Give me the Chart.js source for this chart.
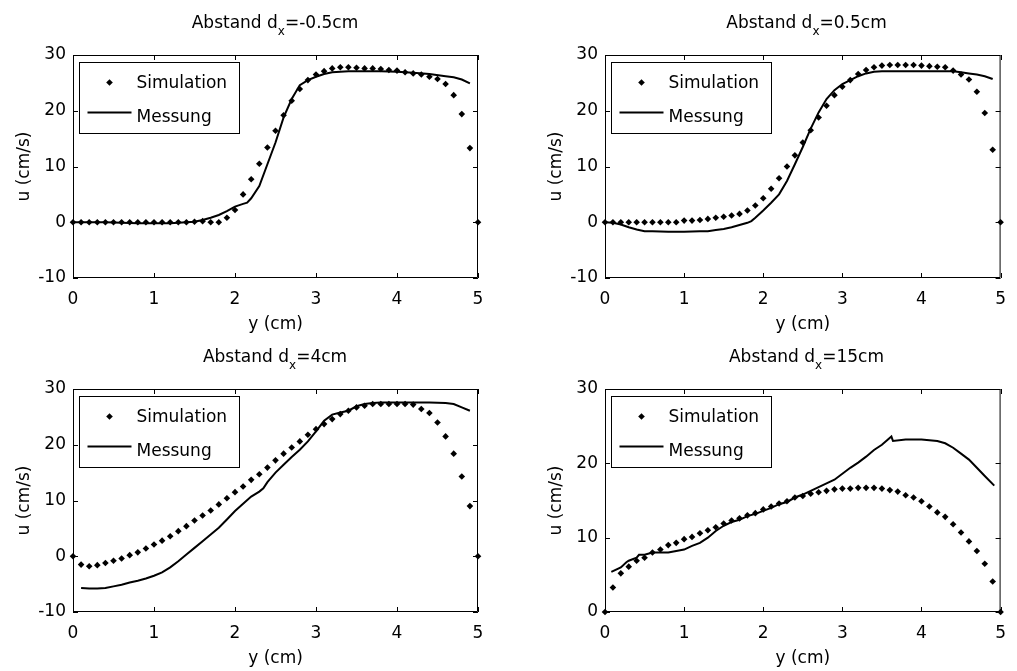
<!DOCTYPE html>
<html>
<head>
<meta charset="utf-8">
<script src="https://cdn.jsdelivr.net/npm/chart.js@4.4.1/dist/chart.umd.min.js"></script>
<style>
  body { margin: 0; background: #fff; }
  #page { position: relative; width: 1017px; height: 671px; overflow: hidden; background: #fff; }
  canvas { position: absolute; }
  .title { position: absolute; font: 17px "DejaVu Sans"; line-height: 17px; color: #000; white-space: nowrap; transform: translateX(-50%); }
  .title sub { font-size: 12px; vertical-align: -7px; line-height: 0; }
</style>
</head>
<body>
<div id="page">
  <canvas id="c0" width="508" height="335" style="left:0;top:0"></canvas>
  <canvas id="c1" width="485" height="335" style="left:532px;top:0"></canvas>
  <canvas id="c2" width="508" height="335" style="left:0;top:334px"></canvas>
  <canvas id="c3" width="485" height="335" style="left:532px;top:334px"></canvas>
</div>
<script>
// distances of the four panels
const distances = ['-0.5cm', '0.5cm', '4cm', '15cm'];
const yMins = [-10, -10, -10, 0];

// simulation grid (y in cm)
const simX = [0,0.1,0.2,0.3,0.4,0.5,0.6,0.7,0.8,0.9,1.0,1.1,1.2,1.3,1.4,1.5,1.6,1.7,1.8,1.9,
  2.0,2.1,2.2,2.3,2.4,2.5,2.6,2.7,2.8,2.9,3.0,3.1,3.2,3.3,3.4,3.5,3.6,3.7,3.8,3.9,
  4.0,4.1,4.2,4.3,4.4,4.5,4.6,4.7,4.8,4.9,5.0];

// simulation u (cm/s)
const simA = [0,0,0,0,0,0,0,0,0,0,0,0,0,0,0,0.1,0.2,0,0,0.8,
  2.2,5.0,7.7,10.5,13.4,16.4,19.2,21.8,23.9,25.5,26.5,27.1,27.6,27.8,27.8,27.7,27.6,27.6,27.5,27.3,
  27.2,26.9,26.7,26.5,26.1,25.7,24.8,22.8,19.4,13.3,0];
const simB = [0,0,0,0,0,0,0,0,0,0,0.3,0.3,0.4,0.6,0.8,1.0,1.2,1.5,2.1,3.0,
  4.3,6.0,7.9,10.0,12.0,14.3,16.5,18.8,20.9,22.8,24.3,25.5,26.6,27.3,27.8,28.1,28.2,28.2,28.2,28.2,
  28.1,28.0,27.9,27.8,27.2,26.5,25.6,23.4,19.6,13.0,0];
const simC = [0,-1.5,-1.8,-1.6,-1.2,-0.8,-0.4,0.2,0.7,1.4,2.1,2.8,3.6,4.5,5.4,6.4,7.3,8.2,9.3,10.4,
  11.5,12.5,13.7,14.7,15.9,17.2,18.4,19.5,20.6,21.8,22.8,23.7,24.6,25.5,26.1,26.7,27.0,27.3,27.3,27.3,
  27.3,27.3,27.2,26.4,25.7,24.0,21.5,18.4,14.3,9.0,0];
const simD = [0,3.3,5.2,6.1,6.9,7.3,8.0,8.4,9.0,9.3,9.8,10.1,10.6,11.0,11.4,11.9,12.3,12.6,13.0,13.3,
  13.8,14.2,14.6,14.9,15.4,15.6,15.9,16.1,16.3,16.5,16.6,16.6,16.7,16.7,16.7,16.6,16.4,16.2,15.7,15.4,
  14.9,14.2,13.4,12.8,11.8,10.7,9.5,8.2,6.5,4.1,0];

// measurement
const messAX = [0,0.2,0.4,0.6,0.8,1.0,1.2,1.4,1.5,1.6,1.7,1.8,1.9,2.0,2.1,2.15,2.2,2.3,2.4,2.5,2.6,2.7,2.8,2.9,3.0,
  3.1,3.2,3.3,3.4,3.6,3.8,4.0,4.2,4.4,4.6,4.7,4.8,4.9];
const messAY = [0,0,0,-0.1,-0.2,-0.2,-0.2,0,0.1,0.4,0.8,1.3,2.0,2.8,3.3,3.5,4.3,6.5,10.4,14.3,18.8,22.1,24.6,25.5,26.1,
  26.6,26.9,27.0,27.1,27.1,27.1,27.0,26.8,26.6,26.2,26.0,25.6,24.9];

const messBX = [0,0.1,0.2,0.3,0.4,0.5,0.6,0.8,1.0,1.2,1.3,1.4,1.5,1.6,1.7,1.8,1.85,1.9,2.0,2.1,2.2,2.3,2.4,2.5,2.6,2.7,2.8,
  2.9,3.0,3.1,3.2,3.3,3.4,3.5,3.8,4.1,4.4,4.5,4.6,4.7,4.8,4.9];
const messBY = [0,-0.1,-0.4,-0.9,-1.3,-1.6,-1.6,-1.7,-1.7,-1.6,-1.6,-1.4,-1.2,-0.9,-0.5,-0.1,0.2,0.8,2.1,3.5,5.0,7.4,10.4,13.5,16.8,19.7,22.1,
  23.7,24.8,25.5,26.2,26.7,27.0,27.1,27.1,27.1,27.1,26.9,26.7,26.5,26.2,25.7];

const messCX = [0.1,0.2,0.3,0.4,0.5,0.6,0.7,0.8,0.9,1.0,1.1,1.2,1.3,1.4,1.5,1.6,1.7,1.8,1.9,2.0,
  2.1,2.2,2.3,2.35,2.4,2.5,2.6,2.7,2.8,2.9,3.0,3.1,3.2,3.3,3.4,3.5,3.6,3.7,3.8,4.0,4.2,4.4,4.6,4.7,4.8,4.9];
const messCY = [-5.7,-5.8,-5.8,-5.7,-5.4,-5.1,-4.7,-4.4,-4.0,-3.5,-2.9,-2.0,-0.9,0.3,1.5,2.7,3.9,5.1,6.6,8.1,
  9.4,10.7,11.6,12.2,13.3,15.0,16.4,17.8,19.1,20.6,22.4,24.3,25.4,25.8,26.1,26.9,27.3,27.5,27.6,27.6,27.6,27.6,27.5,27.3,26.7,26.1];

const messDX = [0.08,0.2,0.27,0.3,0.4,0.43,0.5,0.6,0.7,0.8,0.9,1.0,1.1,1.2,1.3,1.4,1.5,1.6,1.7,1.8,
  1.9,2.0,2.1,2.2,2.3,2.4,2.5,2.6,2.7,2.8,2.9,3.0,3.1,3.2,3.3,3.4,3.5,3.62,3.64,3.8,4.0,4.2,4.3,4.4,4.5,4.6,4.7,4.8,4.92];
const messDY = [5.4,6.0,6.7,6.9,7.3,7.7,7.7,8.0,8.0,8.0,8.2,8.4,8.9,9.3,10.0,10.9,11.6,12.1,12.4,12.9,
  13.2,13.6,14.0,14.5,14.8,15.4,15.8,16.3,16.8,17.3,17.8,18.6,19.4,20.1,20.9,21.8,22.5,23.6,23.0,23.2,23.2,23.0,22.7,22.1,21.3,20.5,19.4,18.3,17.0];

const sims = [simA, simB, simC, simD];
const messX = [messAX, messBX, messCX, messDX];
const messY = [messAY, messBY, messCY, messDY];

const FONT = 'DejaVu Sans';
Chart.defaults.font.family = FONT;
Chart.defaults.font.size = 17;
Chart.defaults.color = '#000';

// matlab style box with inward ticks
const axesBox = {
  id: 'axesBox',
  afterDatasetsDraw(chart) {
    const {ctx, chartArea: a, scales} = chart;
    ctx.save();
    ctx.strokeStyle = '#000';
    ctx.lineWidth = 1;
    ctx.beginPath();
    ctx.rect(a.left + 0.5, a.top + 0.5, a.right - a.left - 1, a.bottom - a.top - 1);
    scales.x.ticks.forEach(t => {
      const px = Math.round(scales.x.getPixelForValue(t.value)) + 0.5;
      ctx.moveTo(px, a.bottom); ctx.lineTo(px, a.bottom - 5);
      ctx.moveTo(px, a.top); ctx.lineTo(px, a.top + 5);
    });
    scales.y.ticks.forEach(t => {
      const py = Math.round(scales.y.getPixelForValue(t.value)) + 0.5;
      ctx.moveTo(a.left, py); ctx.lineTo(a.left + 5, py);
      ctx.moveTo(a.right, py); ctx.lineTo(a.right - 5, py);
    });
    ctx.stroke();
    ctx.restore();
  }
};

// legend box inside the axes, top left
const boxLegend = {
  id: 'boxLegend',
  afterDraw(chart) {
    const {ctx, chartArea: a} = chart;
    const ds = chart.data.datasets;
    const bx = a.left + 6.5, by = a.top + 7.5;
    ctx.save();
    ctx.fillStyle = '#fff';
    ctx.fillRect(bx, by, 160, 71);
    ctx.strokeStyle = '#000';
    ctx.lineWidth = 1;
    ctx.strokeRect(bx, by, 160, 71);
    // marker
    ctx.fillStyle = '#000';
    const mx = bx + 30, my = by + 20;
    ctx.beginPath();
    ctx.moveTo(mx, my - 3.3); ctx.lineTo(mx + 3.3, my); ctx.lineTo(mx, my + 3.3); ctx.lineTo(mx - 3.3, my);
    ctx.closePath();
    ctx.fill();
    // line
    ctx.lineWidth = 2;
    ctx.beginPath();
    ctx.moveTo(bx + 8, by + 50); ctx.lineTo(bx + 52, by + 50);
    ctx.stroke();
    ctx.font = '17px "' + FONT + '"';
    ctx.textBaseline = 'middle';
    ctx.textAlign = 'left';
    ctx.fillText(ds[0].label, bx + 57, by + 21);
    ctx.fillText(ds[1].label, bx + 57, by + 55);
    ctx.restore();
  }
};

function makeChart(i) {
  const canvas = document.getElementById('c' + i);
  const rightPad = canvas.width - (i % 2 === 0 ? 478 : 476);
  new Chart(canvas, {
    type: 'scatter',
    data: {
      datasets: [{
        label: 'Simulation',
        data: simX.map((x, k) => ({x: x, y: sims[i][k]})),
        pointStyle: 'rectRot',
        pointRadius: 3.3,
        pointBackgroundColor: '#000',
        pointBorderWidth: 0,
        showLine: false,
        clip: false
      }, {
        label: 'Messung',
        data: messX[i].map((x, k) => ({x: x, y: messY[i][k]})),
        showLine: true,
        pointRadius: 0,
        borderColor: '#000',
        borderWidth: 2,
        fill: false
      }]
    },
    options: {
      responsive: false,
      animation: false,
      events: [],
      layout: {padding: {top: 55, right: rightPad, left: 0, bottom: 0}},
      plugins: {legend: {display: false}, tooltip: {enabled: false}},
      scales: {
        x: {
          type: 'linear', min: 0, max: 5,
          grid: {display: false, drawTicks: false}, border: {display: false},
          ticks: {stepSize: 1, padding: 11, maxRotation: 0},
          title: {display: true, text: 'y (cm)', padding: {top: 0, bottom: 0}},
          afterFit: s => { s.height = 57; }
        },
        y: {
          min: yMins[i], max: 30,
          grid: {display: false, drawTicks: false}, border: {display: false},
          ticks: {stepSize: 10, padding: 7},
          title: {display: true, text: 'u (cm/s)', padding: {top: 14, bottom: 0}},
          afterFit: s => { s.width = 73; }
        }
      }
    },
    plugins: [axesBox, boxLegend]
  });

  // panel title with subscript
  const t = document.createElement('div');
  t.className = 'title';
  const left = parseInt(canvas.style.left) || 0;
  const top = parseInt(canvas.style.top) || 0;
  const centre = i % 2 === 0 ? 275 : 73 + (476 - 73) / 2;
  t.style.left = (left + centre) + 'px';
  t.style.top = (top + 14) + 'px';
  t.innerHTML = 'Abstand d<sub>x</sub>=' + distances[i];
  document.getElementById('page').appendChild(t);
}

for (let i = 0; i < 4; i++) makeChart(i);
</script>
</body>
</html>
